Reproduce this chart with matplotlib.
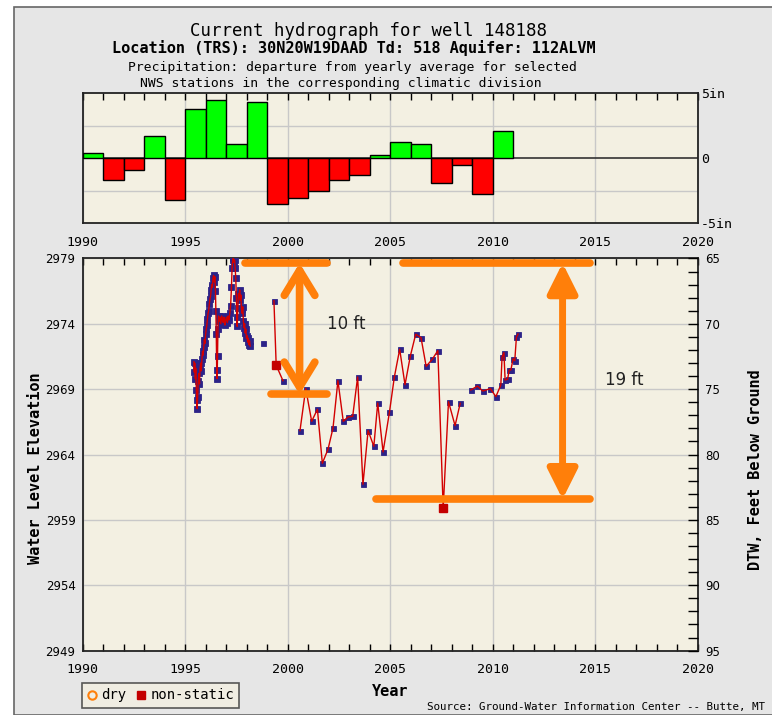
import numpy as np
import matplotlib.pyplot as plt
from matplotlib.lines import Line2D
from matplotlib.patches import Rectangle

# --- precipitation departure (inches), one bar per year ---
precip_years = list(range(1990, 2011))
precip_dep = [0.4, -1.7, -0.9, 1.7, -3.2, 3.8, 4.5, 1.1, 4.3, -3.5, -3.1,
              -2.5, -1.7, -1.3, 0.2, 1.2, 1.1, -1.9, -0.5, -2.8, 2.1]

# --- water level elevation (ft) ---
# dense continuous record 1995.4 - 1998.2
cont_years = [1995.43, 1995.45, 1995.47, 1995.50, 1995.52, 1995.55, 1995.57, 1995.59,
              1995.61, 1995.64, 1995.67, 1995.70, 1995.73, 1995.76, 1995.79, 1995.82,
              1995.85, 1995.88, 1995.91, 1995.94, 1995.97, 1996.00, 1996.03, 1996.06,
              1996.09, 1996.12, 1996.15, 1996.18, 1996.21, 1996.24, 1996.27, 1996.30,
              1996.33, 1996.36, 1996.39, 1996.42, 1996.45, 1996.48, 1996.50, 1996.52,
              1996.54, 1996.56, 1996.58, 1996.60, 1996.63, 1996.66, 1996.70, 1996.74,
              1996.78, 1996.82, 1996.86, 1996.90, 1996.94, 1996.98, 1997.02, 1997.06,
              1997.10, 1997.14, 1997.18, 1997.22, 1997.26, 1997.29, 1997.32, 1997.35,
              1997.38, 1997.41, 1997.44, 1997.47, 1997.50, 1997.52, 1997.54, 1997.57,
              1997.60, 1997.63, 1997.66, 1997.69, 1997.72, 1997.75, 1997.78, 1997.81,
              1997.84, 1997.87, 1997.90, 1997.93, 1997.96, 1997.99, 1998.02, 1998.05,
              1998.08, 1998.11, 1998.14, 1998.17]
cont_elev = [2971.1, 2970.3, 2971.0, 2969.8, 2970.6, 2968.9, 2968.2, 2967.5,
             2968.4, 2969.6, 2970.2, 2969.4, 2970.6, 2971.0, 2970.4, 2971.3,
             2971.9, 2971.6, 2972.2, 2972.8, 2972.5, 2973.2, 2973.6, 2973.9,
             2974.4, 2974.8, 2975.0, 2975.5, 2975.9, 2976.1, 2976.6, 2977.0,
             2976.8, 2977.5, 2977.7, 2977.2, 2977.6, 2976.5, 2975.0, 2973.2,
             2970.5, 2969.8, 2971.5, 2973.6, 2974.6, 2974.2, 2974.5, 2974.0,
             2974.6, 2974.3, 2974.1, 2974.5, 2973.9, 2974.3, 2974.5, 2974.1,
             2974.6, 2974.3, 2974.8, 2975.4, 2976.8, 2978.3, 2978.9, 2979.0,
             2978.7, 2978.9, 2978.3, 2977.5, 2976.0, 2974.5, 2973.8, 2975.2,
             2976.3, 2976.0, 2976.6, 2975.8, 2976.2, 2975.1, 2974.8, 2975.3,
             2974.2, 2973.7, 2974.0, 2973.3, 2973.6, 2972.9, 2973.1, 2972.6,
             2972.9, 2972.4, 2972.7, 2972.3]

single_years = [1998.81]
single_elev = [2972.55]

seg1_years = [1999.33, 1999.44, 1999.77]
seg1_elev = [2975.77, 2970.83, 2969.65]

seg2_years = [2000.60, 2000.88, 2001.17, 2001.45, 2001.69, 2001.97, 2002.21, 2002.45,
              2002.71, 2002.94, 2003.17, 2003.41, 2003.67, 2003.92, 2004.20, 2004.39,
              2004.65, 2004.96, 2005.20, 2005.46, 2005.72, 2005.98, 2006.24, 2006.50,
              2006.75, 2007.05, 2007.32, 2007.58, 2007.84, 2008.16, 2008.41]
seg2_elev = [2965.83, 2969.04, 2966.54, 2967.46, 2963.33, 2964.42, 2966.03, 2969.65,
             2966.54, 2966.87, 2966.93, 2969.93, 2961.72, 2965.83, 2964.63, 2967.94,
             2964.20, 2967.23, 2969.93, 2972.05, 2969.34, 2971.54, 2973.20, 2972.94,
             2970.75, 2971.29, 2971.95, 2959.89, 2968.04, 2966.21, 2967.92]

seg3_years = [2008.93, 2009.25, 2009.51, 2009.88, 2010.15, 2010.39, 2010.45, 2010.54,
              2010.60, 2010.72, 2010.80, 2010.88, 2010.99, 2011.07, 2011.15, 2011.23]
seg3_elev = [2968.94, 2969.24, 2968.86, 2969.04, 2968.43, 2969.32, 2971.44, 2971.80,
             2969.70, 2969.76, 2970.47, 2970.47, 2971.33, 2971.18, 2972.97, 2973.22]

nonstatic_years = [1999.44, 2007.58]
nonstatic_elev = [2970.83, 2959.89]

land_surface = 3044  # DTW = land_surface - elevation

# orange hand-drawn range marks: (x0, x1, elevation)
range_lines = [(1997.9, 2001.92, 2978.65), (1999.17, 2001.9, 2968.6),
               (2005.6, 2014.75, 2978.65), (2004.3, 2014.75, 2960.58)]
small_arrow = (2000.58, 2978.65, 2968.6)
big_arrow = (2013.4, 2978.65, 2960.58)
range_labels = [(2002.85, 2974.0, "10 ft"), (2016.4, 2969.7, "19 ft")]

beige = '#f3f0e2'
orange = '#ff7f0a'
navy = '#2c2388'
mono = 'DejaVu Sans Mono'

fig = plt.figure(figsize=(7.72, 7.15), dpi=100)
fig.patch.set_facecolor('white')
fig.patches.append(Rectangle((14 / 772, 0), 1, 1 - 7 / 715, transform=fig.transFigure,
                             facecolor='#e6e6e6', edgecolor='#666666', lw=1.2, zorder=-5))

fig.text(0.4767, 0.9566, "Current hydrograph for well 148188", ha='center', va='center',
         family=mono, fontsize=12.5)
fig.text(0.4585, 0.9329, "Location (TRS): 30N20W19DAAD Td: 518 Aquifer: 112ALVM",
         ha='center', va='center', family=mono, fontsize=11, weight='bold')
fig.text(0.456, 0.9049, "Precipitation: departure from yearly average for selected",
         ha='center', va='center', family=mono, fontsize=9.4)
fig.text(0.4415, 0.8839, "NWS stations in the corresponding climatic division",
         ha='center', va='center', family=mono, fontsize=9.4)

# ---- precipitation panel ----
ax1 = fig.add_axes([0.1069, 0.6881, 0.7972, 0.1818])
ax1.set_facecolor(beige)
colors = ['#00ff00' if v >= 0 else '#ff0000' for v in precip_dep]
ax1.bar(precip_years, precip_dep, width=1.0, align='edge', color=colors,
        edgecolor='black', linewidth=1.0, zorder=3)
ax1.axhline(0, color='#333333', lw=1.2, zorder=2)
ax1.set_xlim(1990, 2020)
ax1.set_ylim(-5, 5)
ax1.set_xticks(range(1990, 2021, 5))
ax1.set_xticks(range(1990, 2021), minor=True)
ax1.set_yticks([-5, 0, 5])
ax1.set_yticklabels(['-5in', '0', '5in'])
ax1.set_yticks([-2.5, 2.5], minor=True)
ax1.yaxis.tick_right()
ax1.tick_params(axis='y', which='both', length=0, pad=2, labelsize=9.5)
ax1.tick_params(axis='x', which='both', bottom=False, top=True, direction='in',
                length=5, width=1, labelbottom=True, labelsize=9.5, pad=9)
for lab in ax1.get_xticklabels() + ax1.get_yticklabels():
    lab.set_family(mono)
ax1.grid(True, axis='x', which='major', color='#c8c8c8', lw=1, zorder=0)
ax1.grid(True, axis='y', which='minor', color='#c8c8c8', lw=1, zorder=0)
for s in ax1.spines.values():
    s.set_color('#222222')
    s.set_linewidth(1.3)

# ---- hydrograph panel ----
ax2 = fig.add_axes([0.1069, 0.0901, 0.7972, 0.5484])
ax2.set_facecolor(beige)
ax2.set_xlim(1990, 2020)
ax2.set_ylim(2949, 2979)
ax2.set_xticks(range(1990, 2021, 5))
ax2.set_xticks(range(1990, 2021), minor=True)
ax2.set_yticks(range(2949, 2980, 5))
ax2.tick_params(axis='x', which='both', direction='in', top=True, bottom=True,
                length=5, width=1, labelsize=9.5, pad=9)
ax2.tick_params(axis='y', which='both', length=0, pad=5, labelsize=8.5)
for lab in ax2.get_xticklabels():
    lab.set_family(mono)
ax2.grid(True, which='major', color='#c8c8c8', lw=1, zorder=0)
for s in ax2.spines.values():
    s.set_color('#222222')
    s.set_linewidth(1.3)
ax2.set_ylabel("Water Level Elevation", family=mono, weight='bold', fontsize=11)
ax2.yaxis.set_label_coords(-0.065, 0.465)
ax2.set_xlabel("Year", family=mono, weight='bold', fontsize=11, labelpad=6)

ax3 = ax2.twinx()
ax3.set_ylim(land_surface - 2949, land_surface - 2979)
ax3.set_yticks(range(65, 96, 5))
ax3.set_yticks(range(65, 96), minor=True)
ax3.tick_params(axis='y', which='both', direction='in', length=7, width=1,
                labelsize=8.5, pad=5)
ax3.set_ylabel("DTW, Feet Below Ground", family=mono, weight='bold', fontsize=11)
ax3.yaxis.set_label_coords(1.081, 0.462)
for s in ax3.spines.values():
    s.set_visible(False)

mk = dict(marker='s', ms=3.6, mfc=navy, mec=navy, mew=0.6, ls='none', zorder=4)
ln = dict(color='#d20000', lw=1.0, zorder=5)
ax2.plot(cont_years, cont_elev, **dict(mk, ms=4.4))
ax2.plot(cont_years, cont_elev, **ln)
for xs, ys in [(seg1_years, seg1_elev), (seg2_years, seg2_elev), (seg3_years, seg3_elev)]:
    ax2.plot(xs, ys, **mk)
    ax2.plot(xs, ys, **ln)
ax2.plot(single_years, single_elev, **mk)
ax2.plot(nonstatic_years, nonstatic_elev, marker='s', ms=6, mfc='#c40000',
         mec='#c40000', ls='none', zorder=6)

# orange range annotation
for x0, x1, y in range_lines:
    ax2.plot([x0, x1], [y, y], color=orange, lw=5.5, solid_capstyle='round', zorder=7)
x, y0, y1 = small_arrow
ax2.annotate('', xy=(x, y1), xytext=(x, y0),
             arrowprops=dict(arrowstyle='<->,head_length=0.9,head_width=0.55',
                             color=orange, lw=5.5, mutation_scale=20,
                             shrinkA=0, shrinkB=0, capstyle='round'), zorder=7)
x, y0, y1 = big_arrow
ax2.annotate('', xy=(x, y1), xytext=(x, y0),
             arrowprops=dict(arrowstyle='<|-|>,head_length=0.9,head_width=0.45',
                             color=orange, lw=5, mutation_scale=20,
                             shrinkA=0, shrinkB=0), zorder=7)
for x, y, t in range_labels:
    ax2.text(x, y, t, ha='center', va='center', fontsize=12, color='#222222',
             family='DejaVu Sans', zorder=8)

# legend and source
handles = [Line2D([], [], marker='o', ls='none', mfc='none', mec=orange, mew=1.5, ms=6),
           Line2D([], [], marker='s', ls='none', mfc='#c40000', mec='#c40000', ms=6)]
leg = fig.legend(handles, ['dry', 'non-static'], loc='lower left',
                 bbox_to_anchor=(82 / 772, 1 - 708 / 715), ncol=2, frameon=True,
                 fancybox=False, handlelength=0.6, handletextpad=0.35,
                 columnspacing=0.8, borderpad=0.4, borderaxespad=0,
                 prop={'family': mono, 'size': 10})
leg.get_frame().set_facecolor(beige)
leg.get_frame().set_edgecolor('#333333')
leg.get_frame().set_linewidth(1.2)

fig.text(765 / 772, 1 - 707 / 715, "Source: Ground-Water Information Center -- Butte, MT",
         ha='right', va='center', family=mono, fontsize=7.8)

fig.savefig('out.png', dpi=100)
